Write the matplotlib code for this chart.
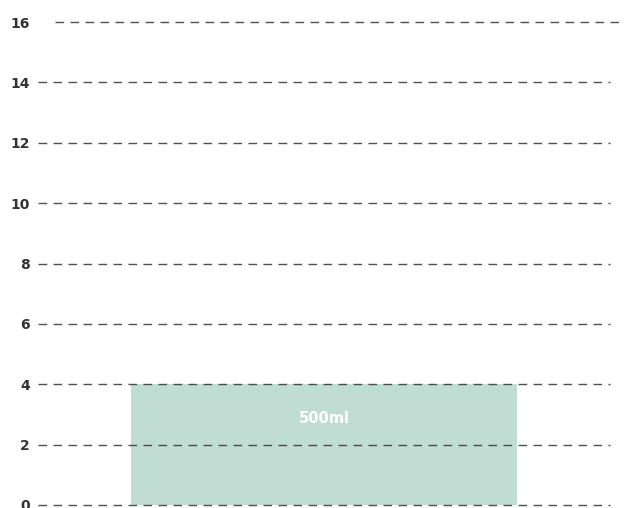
import matplotlib
matplotlib.use("Agg")
import matplotlib.pyplot as plt

plt.rcParams["font.family"] = ["DejaVu Sans"]

categories = ["500ml"]
values = [4]
yticks = [0, 2, 4, 6, 8, 10, 12, 14, 16]

fig = plt.figure(figsize=(6.25, 5.08), dpi=100)
ax = fig.add_axes([38/625, 3/508, 572/625, 483/508])

bar_color = "#c0ddd3"
ax.bar(range(len(categories)), values, width=0.675, color=bar_color, zorder=1)
ax.set_xlim(-0.5, 0.5)
ax.set_ylim(0, 16)

for x, v, c in zip(range(len(categories)), values, categories):
    ax.annotate(c, (x, v), xytext=(0, -25), textcoords="offset points",
                ha="center", va="center", color="white", fontsize=10.5,
                fontweight="bold", zorder=3)

dash = (0, (6.2, 4.6))
for t in yticks:
    if t == 16:
        ax.axhline(t, xmin=17/572, xmax=(630-38)/572, color="#333333", lw=1.0,
                   linestyle=dash, alpha=0.85, clip_on=False, zorder=2)
    else:
        ax.axhline(t, xmin=0, xmax=1, color="#333333", lw=1.0,
                   linestyle=dash, alpha=0.85, clip_on=False, zorder=2)

ax.set_yticks(yticks)
ax.set_yticklabels([str(t) for t in yticks], fontsize=10, fontweight="bold", color="#333333")
ax.tick_params(axis="y", length=0, pad=6)
ax.set_xticks([])
for s in ax.spines.values():
    s.set_visible(False)

fig.savefig("out.png", dpi=100)
